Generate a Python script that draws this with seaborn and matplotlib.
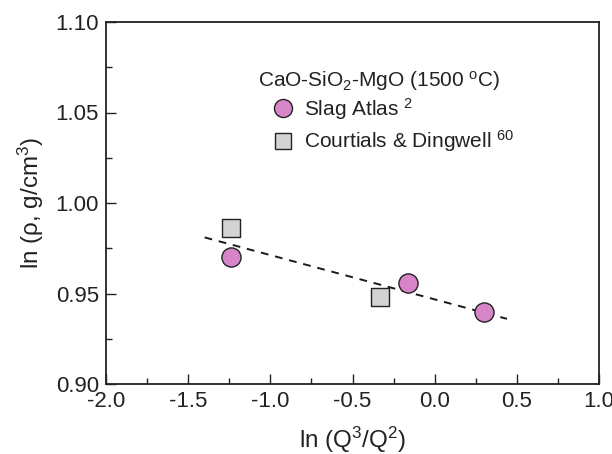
import matplotlib
matplotlib.use("Agg")
import matplotlib.pyplot as plt
from matplotlib.ticker import MultipleLocator
from matplotlib.lines import Line2D
import seaborn as sns
import pandas as pd

# Data
atlas_x = [-1.24, -0.16, 0.30]
atlas_y = [0.970, 0.9556, 0.940]
court_x = [-1.24, -0.33]
court_y = [0.986, 0.948]
fit_x = [-1.40, 0.44]
fit_y = [0.981, 0.936]

sns.set_theme(style="white")
plt.rcParams['font.family'] = ['Liberation Sans', 'DejaVu Sans']
plt.rcParams['mathtext.fontset'] = 'custom'
plt.rcParams['mathtext.rm'] = 'Liberation Sans'
plt.rcParams['mathtext.it'] = 'Liberation Sans'

W, H = 612, 454
fig = plt.figure(figsize=(6.12, 4.54), dpi=100)
ax = fig.add_axes([106/W, 1-384/H, (599-106)/W, (384-22)/H])

sns.lineplot(x=fit_x, y=fit_y, ax=ax, color="#1a1a1a", linestyle=(0, (4, 3.5)), linewidth=1.4)
c_circ = "#d884c9"
c_sq = "#d3d3d3"
sns.scatterplot(x=atlas_x, y=atlas_y, ax=ax, marker="o", s=190, color=c_circ,
                edgecolor="#222222", linewidth=1.0, zorder=3)
sns.scatterplot(x=court_x, y=court_y, ax=ax, marker="s", s=150, color=c_sq,
                edgecolor="#222222", linewidth=1.0, zorder=3)

ax.set_xlim(-2.0, 1.0)
ax.set_ylim(0.90, 1.10)
ax.xaxis.set_major_locator(MultipleLocator(0.5))
ax.xaxis.set_minor_locator(MultipleLocator(0.25))
ax.yaxis.set_major_locator(MultipleLocator(0.05))
ax.yaxis.set_minor_locator(MultipleLocator(0.025))
ax.xaxis.set_major_formatter(matplotlib.ticker.FormatStrFormatter('%.1f'))
ax.yaxis.set_major_formatter(matplotlib.ticker.FormatStrFormatter('%.2f'))
ax.tick_params(which='both', direction='in', top=False, right=False, left=True, bottom=True,
               labelsize=16, color="#222222", labelcolor="#222222")
ax.tick_params(which='major', length=7, width=1.0, pad=5)
ax.tick_params(which='minor', length=4, width=1.0)
for s in ax.spines.values():
    s.set_color("#222222")
    s.set_linewidth(1.3)

ax.set_xlabel(r"ln (Q$^3$/Q$^2$)", fontsize=17.5, labelpad=9, color="#222222")
ax.set_ylabel(r"ln ($\rho$, g/cm$^3$)", fontsize=17.5, labelpad=7, color="#222222")

handles = [
    Line2D([], [], marker="o", linestyle="none", markersize=13, markerfacecolor=c_circ,
           markeredgecolor="#222222", markeredgewidth=1.0),
    Line2D([], [], marker="s", linestyle="none", markersize=11, markerfacecolor=c_sq,
           markeredgecolor="#222222", markeredgewidth=1.0),
]
labels = [r"Slag Atlas $^2$", r"Courtials & Dingwell $^{60}$"]
leg = ax.legend(handles, labels, loc="upper left",
                bbox_to_anchor=(273/W, 1-96/H), bbox_transform=fig.transFigure,
                frameon=False, fontsize=15, handletextpad=0.5, labelspacing=0.3,
                borderpad=0, borderaxespad=0, handlelength=1.0)
for t in leg.get_texts():
    t.set_color("#222222")
fig.text(258/W, 1-81/H, r"CaO-SiO$_2$-MgO (1500 $^o$C)", fontsize=15, color="#222222",
         ha="left", va="center")

fig.savefig("out.png", dpi=100)
